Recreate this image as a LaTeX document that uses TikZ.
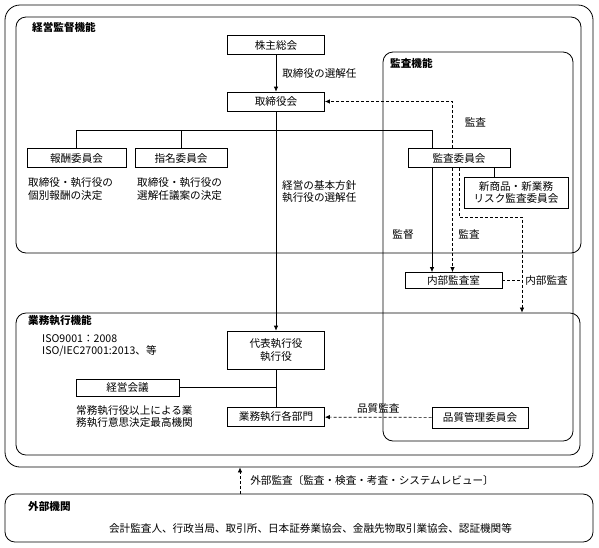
\documentclass[tikz,border=0pt]{standalone}
\usepackage{fontspec}
\setmainfont{Noto Sans CJK JP}
\usetikzlibrary{arrows.meta}

\tikzset{
    box/.style={draw, line width=0.7pt, minimum width=97pt, minimum height=19pt, inner sep=1pt, align=center},
    container/.style={draw, line width=0.8pt, rounded corners=10pt, minimum width=#1},
    title/.style={anchor=west, inner sep=0pt, font=\bfseries},
    note/.style={anchor=west, inner sep=0pt, align=left},
    arr/.style={line width=0.7pt, -{Latex[length=5pt,width=4.5pt]}},
    dashline/.style={line width=0.7pt, dash pattern=on 3pt off 2pt},
    dasharr/.style={dashline, -{Latex[length=5pt,width=4.5pt]}},
}

\begin{document}
\fontsize{10.6pt}{12.5pt}\selectfont
\begin{tikzpicture}[x=1pt,y=-1pt]
    \useasboundingbox (0,0) rectangle (599,547);

    %groups
    \node[container=588pt, minimum height=462pt, rounded corners=15pt] (outer) at (299,236) {};
    \node[container=565pt, minimum height=236pt] (kantoku box) at (298.5,135) {};
    \node[container=190pt, minimum height=389pt] (kansa box) at (478,246.5) {};
    \node[container=564pt, minimum height=142pt] (gyomu box) at (298,384) {};
    \node[container=588pt, minimum height=48pt] (gaibu box) at (299,518) {};
    \node[title] (kantoku title) at (32,27) {経営監督機能};
    \node[title] (kansa title) at (390,63) {監査機能};
    \node[title] (gyomu title) at (28,321) {業務執行機能};
    \node[title] (gaibu title) at (28,506) {外部機関};

    %nodes
    \node[box] (kabunushi) at (276,45) {株主総会};
    \node[box] (torishimariyaku) at (276,101.5) {取締役会};
    \node[box, minimum width=99pt] (houshu) at (76.5,158) {報酬委員会};
    \node[box, minimum width=92pt] (shimei) at (181,158) {指名委員会};
    \node[box, minimum width=102pt] (kansa) at (459,158) {監査委員会};
    \node[box, minimum width=104pt, minimum height=31pt] (risk) at (516,192.5) {新商品・新業務\\リスク監査委員会};
    \node[box, minimum height=16pt] (naibu) at (453.5,280.5) {内部監査室};
    \node[box, minimum height=38pt] (daihyo) at (276,350) {代表執行役\\執行役};
    \node[box, minimum width=103pt, minimum height=17pt] (keiei) at (127.5,387.5) {経営会議};
    \node[box] (gyomu) at (276,417) {業務執行各部門};
    \node[box, minimum width=96pt, minimum height=21pt] (hinshitsu) at (480,417.5) {品質管理委員会};

    %notes
    \node[note] (houshu note) at (28,189) {取締役・執行役の\\個別報酬の決定};
    \node[note] (shimei note) at (137,189) {取締役・執行役の\\選解任議案の決定};
    \node[note] (kihon note) at (282,191.5) {経営の基本方針\\執行役の選解任};
    \node[note] (iso note) at (42,345.5) {ISO9001：2008\\ISO/IEC27001:2013、等};
    \node[note] (keiei note) at (76,416.5) {常務執行役以上による業\\務執行意思決定最高機関};
    \node[anchor=center] (gaibu note) at (310.5,528) {会計監査人、行政当局、取引所、日本証券業協会、金融先物取引業協会、認証機関等};

    %helper coordinates
    \coordinate (bus) at (0,130);
    \coordinate (kantoku line) at (432,0);
    \coordinate (kansa line) at (452.5,0);
    \coordinate (risk line) at (494,0);
    \coordinate (naibu bend) at (459,217);
    \coordinate (naibu corner) at (522,217);
    \coordinate (gaibu line) at (240,0);

    %torishimariyaku
    \draw[arr] (kabunushi) -- (torishimariyaku) node[midway, right=6pt, inner sep=0pt] {取締役の選解任};
    \draw[arr] (torishimariyaku) -- (daihyo);
    \draw[line width=0.7pt] (houshu.north) -- (houshu.north |- bus) -- (bus -| kantoku line) -- (kansa.north -| kantoku line);
    \draw[line width=0.7pt] (shimei.north) -- (shimei.north |- bus);
    %kansa
    \draw[dasharr] (kansa.north -| kansa line) |- (torishimariyaku.east) node[pos=0.1, right=12pt, yshift=16pt, inner sep=0pt] {監査};
    \draw[line width=0.7pt] (kansa.south -| risk line) -- (risk.north -| risk line);
    \draw[arr] (kansa.south -| kantoku line) -- (naibu.north -| kantoku line);
    \node[anchor=center] (kantoku label) at (403,234) {監督};
    \draw[dasharr] (kansa.south -| kansa line) -- (naibu.north -| kansa line);
    \node[anchor=center] (kansa label) at (469,234) {監査};
    \draw[dasharr] (kansa.south -| naibu bend) -- (naibu bend) -- (naibu corner) -- (naibu corner |- gyomu box.north);
    \draw[dashline] (naibu.east) -- (naibu.east -| naibu corner) node[right=3pt, inner sep=0pt] {内部監査};
    %gyomu
    \draw[line width=0.7pt] (daihyo) -- (gyomu);
    \draw[line width=0.7pt] (keiei.east) -- (keiei.east -| daihyo.south);
    \draw[dasharr] (hinshitsu) -- (gyomu) node[midway, above=4pt, inner sep=0pt] {品質監査};
    %gaibu
    \draw[dasharr] (gaibu box.north -| gaibu line) -- (outer.south -| gaibu line) node[midway, right=10pt, inner sep=0pt] {外部監査〔監査・検査・考査・システムレビュー〕};

\end{tikzpicture}
\end{document}
